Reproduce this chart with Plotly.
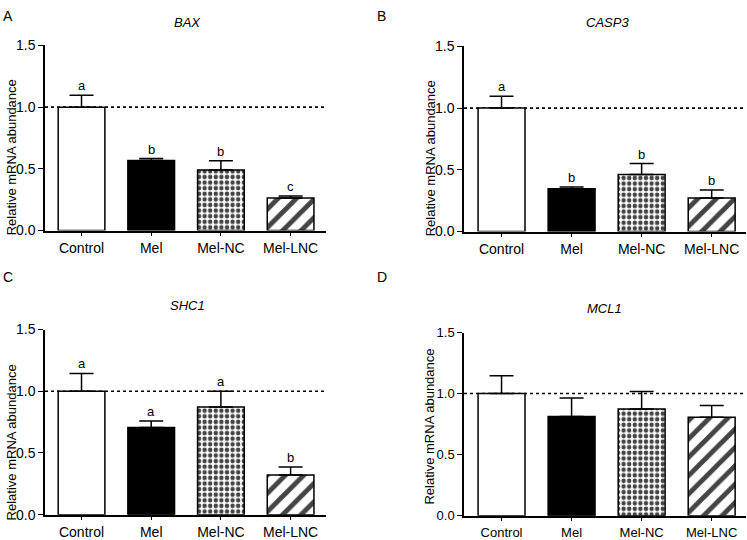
import plotly.graph_objects as go

W, H = 747, 540

categories = ["Control", "Mel", "Mel-NC", "Mel-LNC"]

bax = [1.0, 0.567, 0.49, 0.264]
bax_err = [0.097, 0.016, 0.075, 0.016]
bax_sig = ["a", "b", "b", "c"]

casp3 = [1.0, 0.347, 0.462, 0.272]
casp3_err = [0.097, 0.013, 0.089, 0.064]
casp3_sig = ["a", "b", "b", "b"]

shc1 = [1.0, 0.706, 0.872, 0.321]
shc1_err = [0.144, 0.053, 0.128, 0.066]
shc1_sig = ["a", "a", "a", "b"]

mcl1 = [1.0, 0.811, 0.873, 0.805]
mcl1_err = [0.145, 0.152, 0.143, 0.098]
mcl1_sig = ["", "", "", ""]

genes = ["BAX", "CASP3", "SHC1", "MCL1"]
panel_letters = ["A", "B", "C", "D"]
yticks = [0, 0.5, 1.0, 1.5]
ytick_text = ["0.0", "0.5", "1.0", "1.5"]

FONT = "Liberation Sans, Arial, sans-serif"

# observed vertical mapping of the viewer: screen_y = 8.2 + 0.969 * layout_y
def fy(py):
    ly = (py - 8.2) / 0.969
    return 1 - ly / H

def fx(px):
    return px / W

# pixel layout of each panel (reference px): (x_left, x_right, y_top, y_bottom)
panels = [
    (45, 326, 46, 233),
    (464, 746, 47, 234),
    (45, 326, 333, 520),
    (464, 746, 336, 521),
]
title_pos = [(187, 23), (607, 23), (187, 309), (604, 312)]
letter_pos = [(1, 7), (375, 7), (1, 280), (375, 280)]
ytitle_pos = [(11, 159), (430, 160), (11, 447), (430, 431)]
font_sizes = [14, 14, 14, 13]
xranges = [(-0.524, 3.508), (-0.536, 3.49), (-0.524, 3.508), (-0.536, 3.49)]

series = [(bax, bax_err, bax_sig), (casp3, casp3_err, casp3_sig),
          (shc1, shc1_err, shc1_sig), (mcl1, mcl1_err, mcl1_sig)]

fig = go.Figure()
annotations = []
shapes = []

for i, (vals, errs, sig) in enumerate(series):
    k = "" if i == 0 else str(i + 1)
    xa, ya = "x" + k, "y" + k
    fs = font_sizes[i]
    fig.add_trace(go.Bar(
        x=categories, y=vals, xaxis=xa, yaxis=ya,
        marker=dict(
            color=["white", "black", "white", "white"],
            line=dict(color="black", width=1.5),
            pattern=dict(
                shape=["", "", ".", "/"],
                size=[8, 8, 5.6, 13],
                solidity=[0.3, 0.3, 0.5, 0.38],
                fgcolor="black",
                fgopacity=1,
                fillmode="overlay",
            ),
        ),
        error_y=dict(type="data", array=errs, arrayminus=[0] * len(errs),
                     symmetric=False, color="black", thickness=1.5, width=12),
        showlegend=False, hoverinfo="skip",
    ))
    x0, x1, yt, yb = panels[i]
    fig.layout["xaxis" + k] = dict(
        domain=[fx(x0), fx(x1)], range=list(xranges[i]), anchor=ya,
        showline=True, linecolor="black", linewidth=1.5,
        ticks="outside", ticklen=4, tickwidth=1.2, tickcolor="black",
        tickfont=dict(family=FONT, size=fs, color="black"),
        showgrid=False, zeroline=False, fixedrange=True,
    )
    fig.layout["yaxis" + k] = dict(
        domain=[max(0, fy(yb)), min(1, fy(yt))], range=[0, 1.5], anchor=xa,
        showline=True, linecolor="black", linewidth=1.5,
        ticks="outside", ticklen=5, tickwidth=1.2, tickcolor="black",
        tickvals=yticks, ticktext=ytick_text,
        tickfont=dict(family=FONT, size=fs, color="black"),
        showgrid=False, zeroline=False, fixedrange=True,
    )
    # dotted reference line at 1.0
    shapes.append(dict(type="line", xref=xa + " domain", yref=ya,
                       x0=0, x1=1, y0=1, y1=1, layer="below",
                       line=dict(color="black", width=1.6, dash="dot")))
    # significance letters
    for c, v, e, s in zip(categories, vals, errs, sig):
        if s:
            annotations.append(dict(x=c, y=v + e, xref=xa, yref=ya, text=s,
                                    showarrow=False, yanchor="bottom", yshift=0,
                                    font=dict(family=FONT, size=13, color="black")))
    tx, ty = title_pos[i]
    annotations.append(dict(x=fx(tx), y=fy(ty), xref="paper", yref="paper",
                            text="<i>" + genes[i] + "</i>", showarrow=False,
                            xanchor="center", yanchor="middle",
                            font=dict(family=FONT, size=13, color="black")))
    lx, ly = letter_pos[i]
    if i < 2:
        annotations.append(dict(x=fx(lx), y=1, xref="paper", yref="paper",
                                text=panel_letters[i], showarrow=False,
                                xanchor="left", yanchor="top", yshift=2,
                                font=dict(family=FONT, size=14, color="black")))
    else:
        annotations.append(dict(x=fx(lx), y=fy(ly), xref="paper", yref="paper",
                                text=panel_letters[i], showarrow=False,
                                xanchor="left", yanchor="middle",
                                font=dict(family=FONT, size=14, color="black")))
    yx, yy = ytitle_pos[i]
    annotations.append(dict(x=fx(yx), y=fy(yy), xref="paper", yref="paper",
                            text="Relative mRNA abundance", showarrow=False,
                            textangle=-90, xanchor="center", yanchor="middle",
                            font=dict(family=FONT, size=13, color="black")))

fig.update_layout(
    width=W, height=H,
    margin=dict(l=0, r=0, t=0, b=0),
    paper_bgcolor="white", plot_bgcolor="white",
    bargap=0.33,
    annotations=annotations, shapes=shapes,
    font=dict(family=FONT, color="black"),
)

post = (
    "var de=document.documentElement,b=document.body;"
    "de.style.margin='0';de.style.padding='0';de.style.overflow='hidden';"
    "b.style.margin='0';b.style.padding='0';b.style.overflow='hidden';"
    "var gd=document.getElementById('{plot_id}');"
    "gd.style.position='fixed';gd.style.left='0px';gd.style.top='0px';"
    "Plotly.relayout(gd,{width:%d,height:%d});"
) % (W, H)

fig.write_html("out.html", post_script=post, config={"displayModeBar": False})
